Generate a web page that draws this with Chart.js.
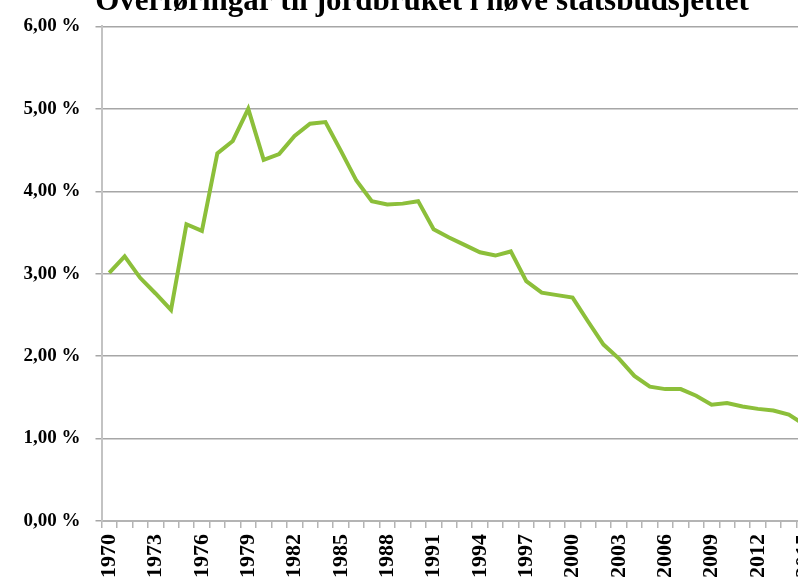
<!DOCTYPE html>
<html>
<head>
<meta charset="utf-8">
<script src="https://cdn.jsdelivr.net/npm/chart.js@4.4.1/dist/chart.umd.min.js"></script>
<style>
html,body{margin:0;padding:0;background:#fff;overflow:hidden;width:798px;height:583px;}
#wrap{position:absolute;left:0;top:0;}
canvas{display:block;}
</style>
</head>
<body>
<div id="wrap"><canvas id="c" width="845" height="583"></canvas></div>
<script>
const titleText = 'Overføringar til jordbruket i høve statsbudsjettet';
const years = [1970,1971,1972,1973,1974,1975,1976,1977,1978,1979,
  1980,1981,1982,1983,1984,1985,1986,1987,1988,1989,
  1990,1991,1992,1993,1994,1995,1996,1997,1998,1999,
  2000,2001,2002,2003,2004,2005,2006,2007,2008,2009,
  2010,2011,2012,2013,2014,2015];
const shares = [3.01,3.21,2.95,2.76,2.56,3.60,3.52,4.46,4.61,5.00,
  4.38,4.45,4.67,4.82,4.84,4.49,4.13,3.88,3.84,3.85,
  3.88,3.54,3.44,3.35,3.26,3.22,3.27,2.91,2.77,2.74,
  2.71,2.42,2.14,1.97,1.76,1.63,1.60,1.60,1.52,1.41,
  1.43,1.39,1.36,1.34,1.29,1.17];
const yTicks = [0,1,2,3,4,5,6];

const serif = "'Liberation Serif','Times New Roman',serif";

// Title drawn near the top edge, partly cut off as in the reference
const topTitle = {
  id: 'topTitle',
  afterDraw(chart) {
    const ctx = chart.ctx;
    ctx.save();
    ctx.font = 'bold 31px ' + serif;
    ctx.fillStyle = '#000';
    ctx.textAlign = 'center';
    ctx.textBaseline = 'alphabetic';
    ctx.fillText(titleText, 422, 9.5);
    ctx.restore();
  }
};

new Chart(document.getElementById('c'), {
  type: 'line',
  data: {
    labels: years.map(String),
    datasets: [{
      data: shares,
      borderColor: '#8cbf3a',
      borderWidth: 4,
      pointRadius: 0,
      tension: 0,
      fill: false,
      borderJoinStyle: 'miter'
    }]
  },
  plugins: [topTitle],
  options: {
    responsive: false,
    animation: false,
    devicePixelRatio: 1,
    layout: { padding: { left: 0, right: 33, top: 18.2, bottom: 0 } },
    plugins: {
      legend: { display: false },
      tooltip: { enabled: false },
      title: { display: false }
    },
    scales: {
      x: {
        type: 'category',
        offset: true,
        grid: { display: true, drawOnChartArea: false, drawTicks: true, tickLength: 7, offset: true, color: '#b4b4b4', lineWidth: 1.5 },
        border: { display: true, color: '#b4b4b4', width: 2 },
        ticks: {
          autoSkip: false,
          minRotation: 90,
          maxRotation: 90,
          padding: 6,
          color: '#000',
          font: { family: serif, size: 22, weight: 'bold' },
          callback: function(v, i) { return (years[i] - 1970) % 3 === 0 ? String(years[i]) : ''; }
        },
        afterFit: function(s) { s.height = 62; }
      },
      y: {
        min: 0, max: 6,
        afterBuildTicks: function(s) { s.ticks = yTicks.map(v => ({ value: v })); },
        grid: { color: '#a6a6a6', lineWidth: 1.5, tickLength: 6, drawTicks: true },
        border: { display: true, color: '#c3c3c3', width: 2 },
        ticks: {
          padding: 15,
          color: '#000',
          font: { family: serif, size: 19, weight: 'bold' },
          callback: function(v) { return v.toFixed(2).replace('.', ',') + ' %'; }
        },
        afterFit: function(s) { s.width = 101.5; }
      }
    }
  }
});
</script>
</body>
</html>
